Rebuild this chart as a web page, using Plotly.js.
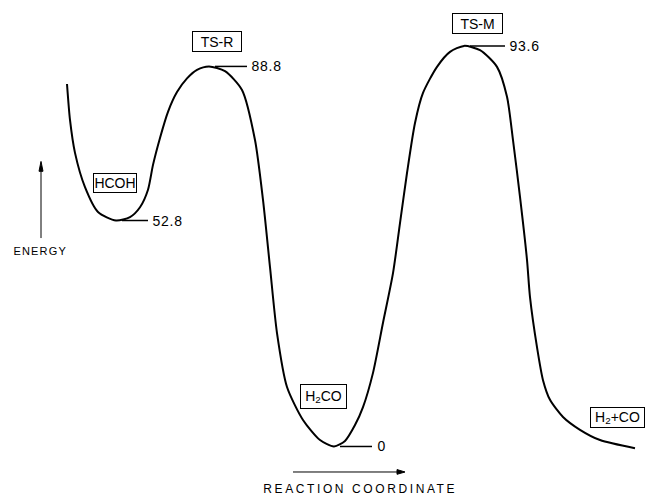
<!DOCTYPE html>
<html>
<head>
<meta charset="utf-8">
<script src="https://cdn.plot.ly/plotly-3.0.1.min.js"></script>
<style>
  html, body { margin: 0; padding: 0; background: #fff; }
  #chart { width: 645px; height: 496px; }
</style>
</head>
<body>
<div id="chart"></div>
<script>
// Reaction coordinate (arbitrary units) and energy (kcal/mol) along the drawn path
const reactionCoord = [67, 70, 75, 85, 98, 116, 130, 140, 148, 153, 160, 168, 177, 187, 197, 209, 225, 242, 255, 263, 270, 277, 287, 303, 320, 334, 345, 355, 363, 373, 383, 393, 400, 407, 415, 423, 437, 450, 464, 480, 497, 507, 513, 520, 527, 530, 537, 543, 550, 563, 580, 600, 635];
const energy = [84.7, 76.3, 68.6, 60.6, 54.8, 52.8, 53.6, 55.9, 60.0, 65.8, 72.1, 78.2, 82.8, 86.0, 88.0, 88.8, 87.7, 83.3, 71.6, 57.6, 41.9, 26.5, 13.9, 6.2, 1.5, 0, 1.3, 5.0, 9.2, 17.2, 28.9, 40.5, 52.2, 63.9, 75.6, 82.6, 88.7, 92.2, 93.6, 92.6, 88.7, 81.7, 71.6, 58.3, 43.6, 34.9, 23.2, 15.5, 10.9, 6.9, 3.9, 1.5, -0.4];

// Stationary points
const stationaryNames = ["HCOH", "TS-R", "H<sub>2</sub>CO", "TS-M", "H<sub>2</sub>+CO"];
const stationaryCoord = [115, 217, 323.5, 477.5, 617.5];
const stationaryLabelEnergy = [61.6, 94.6, 11.7, 98.8, 6.8];
const levelEnergy = [52.8, 88.8, 0, 93.6];
const levelLabels = ["52.8", "88.8", "0", "93.6"];
const levelStart = [122, 215, 340, 470];
const levelEnd = [148, 247, 372, 505];

const FONT = "Liberation Sans, Arial, sans-serif";

const shapes = levelEnergy.map((e, i) => ({
  type: "line", xref: "x", yref: "y",
  x0: levelStart[i], x1: levelEnd[i], y0: e, y1: e,
  line: { color: "#000", width: 1.5 }
}));
// energy arrow (vertical)
shapes.push({ type: "line", xref: "x", yref: "y", x0: 41, x1: 41, y0: 48.7, y1: 65.5,
  line: { color: "#000", width: 1 } });
shapes.push({ type: "path", xref: "x", yref: "y",
  path: "M 39,64.3 L 41,66.6 L 43,64.3 Z", fillcolor: "#000", line: { color: "#000", width: 1 } });
// reaction coordinate arrow (horizontal)
shapes.push({ type: "line", xref: "x", yref: "y", x0: 293, x1: 401, y0: -5.96, y1: -5.96,
  line: { color: "#000", width: 1 } });
shapes.push({ type: "path", xref: "x", yref: "y",
  path: "M 397,-5.4 L 405,-5.96 L 397,-6.5 Z", fillcolor: "#000", line: { color: "#000", width: 1 } });

const annotations = [];
levelEnergy.forEach((e, i) => {
  annotations.push({
    x: levelEnd[i] + 4, y: e, xref: "x", yref: "y",
    text: levelLabels[i], showarrow: false, xanchor: "left", yanchor: "middle",
    font: { family: FONT, size: 14, color: "#000" }
  });
});
const boxW = [40, 46, 43, 47, 51];
const boxH = [16, 17, 21, 17, 17];
stationaryNames.forEach((n, i) => {
  annotations.push({
    x: stationaryCoord[i], y: stationaryLabelEnergy[i], xref: "x", yref: "y",
    text: n, showarrow: false, xanchor: "center", yanchor: "middle",
    width: boxW[i], height: boxH[i], align: "center", valign: "middle",
    bordercolor: "#000", borderwidth: 1, borderpad: 1,
    font: { family: FONT, size: 14, color: "#000" }
  });
});
annotations.push({
  x: 40, y: 45.6, xref: "x", yref: "y", text: "ENERGY", showarrow: false,
  font: { family: FONT, size: 11, color: "#000" }
});
annotations.push({
  x: 360, y: -9.9, xref: "x", yref: "y", text: "REACTION COORDINATE", showarrow: false,
  font: { family: FONT, size: 12, color: "#000" }
});

const data = [{
  x: reactionCoord, y: energy, type: "scatter", mode: "lines",
  line: { color: "#000", width: 2, shape: "spline", smoothing: 0.7 },
  hoverinfo: "skip"
}];

const layout = {
  width: 645, height: 496,
  margin: { l: 0, r: 0, t: 0, b: 0 },
  paper_bgcolor: "#fff", plot_bgcolor: "#fff",
  showlegend: false,
  xaxis: { range: [0, 645], visible: false, fixedrange: true },
  yaxis: { range: [-11.57, 104.32], visible: false, fixedrange: true },
  shapes: shapes,
  annotations: annotations
};

Plotly.newPlot("chart", data, layout, { staticPlot: true }).then(() => {
  document.querySelectorAll(".annotation-text").forEach(t => {
    const s = t.textContent;
    if (s === "REACTION COORDINATE") t.style.letterSpacing = "2.6px";
    if (s === "ENERGY") t.style.letterSpacing = "1.2px";
    if (/^[0-9.]+$/.test(s)) t.style.letterSpacing = "0.8px";
  });
});
</script>
</body>
</html>
